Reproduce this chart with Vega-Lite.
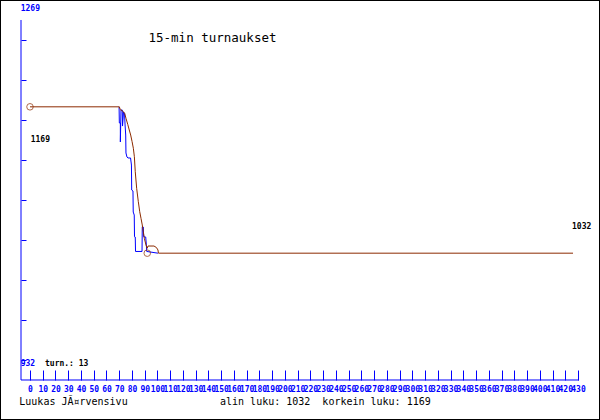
{
  "$schema": "https://vega.github.io/schema/vega-lite/v6.json",
  "autosize": "none",
  "width": 600,
  "height": 420,
  "padding": 0,
  "background": "white",
  "config": {"view": {"stroke": "black", "strokeWidth": 2}},
  "datasets": {
    "blue": [
      {"x": 69.9, "y": 1169}, {"x": 70.1, "y": 1153.9}, {"x": 70.9, "y": 1153.9},
      {"x": 70.9, "y": 1136.1}, {"x": 71.4, "y": 1166.0}, {"x": 72.4, "y": 1166.0}, {"x": 72.6, "y": 1151.0},
      {"x": 73.4, "y": 1164.2}, {"x": 74.2, "y": 1162.3}, {"x": 74.6, "y": 1152.0}, {"x": 75.1, "y": 1142.6},
      {"x": 75.3, "y": 1125.8}, {"x": 76.1, "y": 1122.0}, {"x": 76.9, "y": 1121.1}, {"x": 78.9, "y": 1121.1},
      {"x": 79.6, "y": 1114.5}, {"x": 79.8, "y": 1091.1}, {"x": 80.8, "y": 1090.2}, {"x": 81.0, "y": 1070.5},
      {"x": 81.8, "y": 1067.7}, {"x": 82.0, "y": 1047.4}, {"x": 82.6, "y": 1047.1}, {"x": 82.8, "y": 1033.6},
      {"x": 87.9, "y": 1033.6}, {"x": 88.1, "y": 1056.8}, {"x": 88.9, "y": 1056.5}, {"x": 89.2, "y": 1047.4},
      {"x": 90.8, "y": 1047.1}, {"x": 91.3, "y": 1039.7}, {"x": 91.6, "y": 1033.6}, {"x": 100.4, "y": 1032}
    ],
    "brown": [
      {"x": 0, "y": 1169}, {"x": 70.1, "y": 1169}, {"x": 70.9, "y": 1166.3}, {"x": 72.4, "y": 1165.4},
      {"x": 74.3, "y": 1162.9}, {"x": 75.3, "y": 1158.3}, {"x": 76.7, "y": 1152.6}, {"x": 77.9, "y": 1147.3},
      {"x": 79.0, "y": 1142.6}, {"x": 80.1, "y": 1136.4}, {"x": 81.1, "y": 1130.2}, {"x": 81.9, "y": 1122.3},
      {"x": 82.6, "y": 1108.3}, {"x": 83.7, "y": 1092.7}, {"x": 85.0, "y": 1080.2}, {"x": 86.1, "y": 1070.8},
      {"x": 87.1, "y": 1064.6}, {"x": 88.1, "y": 1058.4}, {"x": 88.9, "y": 1052.1}, {"x": 89.7, "y": 1045.9},
      {"x": 91.0, "y": 1039.7}, {"x": 92.0, "y": 1036.6}, {"x": 92.6, "y": 1038.7}, {"x": 97.3, "y": 1038.7},
      {"x": 99.2, "y": 1037.3}, {"x": 100.4, "y": 1035.0}, {"x": 100.8, "y": 1032}, {"x": 426.1, "y": 1032}
    ],
    "extremes": [{"x": 0, "y": 1169}, {"x": 92.0, "y": 1032}],
    "axislines": [
      {"x": -7.06, "y": 1250.28, "x2": -7.06, "y2": 913.28},
      {"x": -7.06, "y": 913.28, "x2": 430.8, "y2": 913.28}
    ],
    "bluelabels": [
      {"x": -7.3, "y": 1260.6, "label": "1269"},
      {"x": -7.3, "y": 928.3, "label": "932"}
    ],
    "blacklabels": [
      {"x": 11.8, "y": 928.3, "label": "turn.: 13"},
      {"x": 0.55, "y": 1137.9, "label": "1169"},
      {"x": 425.3, "y": 1056.5, "label": "1032"}
    ],
    "title": [{"x": 93.0, "y": 1233.4, "label": "15-min turnaukset"}],
    "footer": [
      {"x": -8.4, "y": 892.7, "label": "Luukas JÃ¤rvensivu"},
      {"x": 149.1, "y": 892.7, "label": "alin luku: 1032\u00a0 korkein luku: 1169"}
    ]
  },
  "encoding": {
    "x": {
      "field": "x", "type": "quantitative",
      "scale": {"domain": [-23.54, 447.27], "nice": false, "zero": false},
      "axis": {
        "orient": "bottom", "offset": -40, "title": null, "domain": false, "grid": false,
        "values": [0,10,20,30,40,50,60,70,80,90,100,110,120,130,140,150,160,170,180,190,200,210,220,230,240,250,260,270,280,290,300,310,320,330,340,350,360,370,380,390,400,410,420,430],
        "tickSize": -10, "tickColor": "#0000ff", "tickWidth": 1,
        "labelColor": "#0000ff", "labelFont": "DejaVu Sans Mono", "labelFontSize": 8, "labelFontWeight": "bold",
        "labelPadding": 15, "labelOverlap": false, "labelFlush": false, "labelBound": false
      }
    },
    "y": {
      "field": "y", "type": "quantitative",
      "scale": {"domain": [875.83, 1269], "nice": false, "zero": false},
      "axis": {
        "orient": "left", "offset": -21, "title": null, "domain": false, "grid": false, "labels": false,
        "values": [932, 969.44, 1006.89, 1044.33, 1081.78, 1119.22, 1156.67, 1194.11, 1231.56],
        "tickSize": -5, "tickColor": "#0000ff", "tickWidth": 1
      }
    }
  },
  "layer": [
    {"data": {"name": "axislines"}, "mark": {"type": "rule", "color": "#0000ff", "strokeWidth": 1},
     "encoding": {"x2": {"field": "x2"}, "y2": {"field": "y2"}}},
    {"data": {"name": "blue"}, "mark": {"type": "line", "color": "#0000ff", "strokeWidth": 1},
     "encoding": {"order": {"value": null}}},
    {"data": {"name": "brown"}, "mark": {"type": "line", "color": "#8c2a00", "strokeWidth": 1},
     "encoding": {"order": {"value": null}}},
    {"data": {"name": "extremes"}, "mark": {"type": "point", "shape": "circle", "filled": false, "color": "#8c2a00", "size": 43, "strokeWidth": 1}},
    {"data": {"name": "bluelabels"}, "mark": {"type": "text", "align": "left", "baseline": "middle", "font": "DejaVu Sans Mono", "fontSize": 8, "fontWeight": "bold", "color": "#0000ff"},
     "encoding": {"text": {"field": "label"}}},
    {"data": {"name": "blacklabels"}, "mark": {"type": "text", "align": "left", "baseline": "middle", "font": "DejaVu Sans Mono", "fontSize": 8, "fontWeight": "bold", "color": "black"},
     "encoding": {"text": {"field": "label"}}},
    {"data": {"name": "title"}, "mark": {"type": "text", "align": "left", "baseline": "middle", "font": "DejaVu Sans Mono", "fontSize": 12.5, "color": "black"},
     "encoding": {"text": {"field": "label"}}},
    {"data": {"name": "footer"}, "mark": {"type": "text", "align": "left", "baseline": "middle", "font": "DejaVu Sans Mono", "fontSize": 10, "color": "black"},
     "encoding": {"text": {"field": "label"}}}
  ]
}
